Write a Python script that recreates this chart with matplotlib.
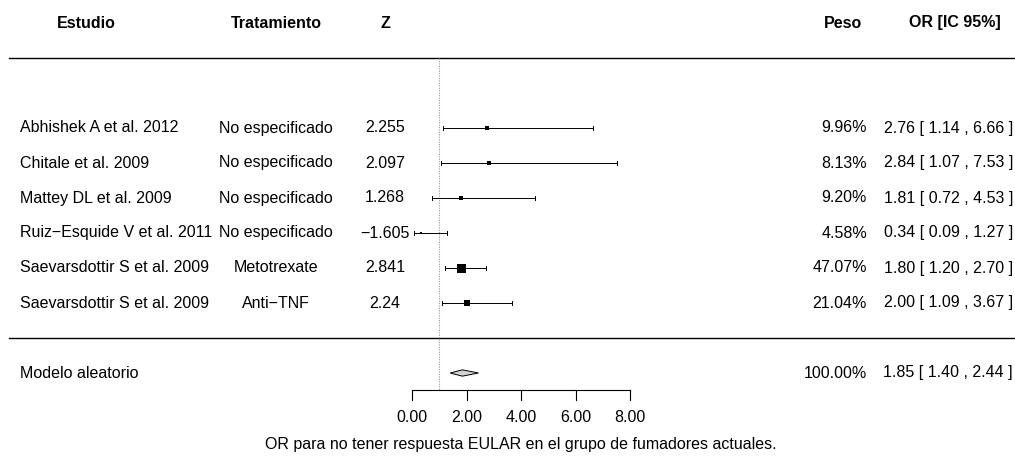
import matplotlib
matplotlib.use('Agg')
import matplotlib.pyplot as plt

plt.rcParams['font.family'] = ['Liberation Sans', 'DejaVu Sans']

# datos del forest plot
estudios = ['Abhishek A et al. 2012', 'Chitale et al. 2009', 'Mattey DL et al. 2009',
            'Ruiz\u2212Esquide V et al. 2011', 'Saevarsdottir S et al. 2009',
            'Saevarsdottir S et al. 2009']
tratamientos = ['No especificado', 'No especificado', 'No especificado',
                'No especificado', 'Metotrexate', 'Anti\u2212TNF']
z_vals = ['2.255', '2.097', '1.268', '\u22121.605', '2.841', '2.24']
pesos = [9.96, 8.13, 9.20, 4.58, 47.07, 21.04]
odds = [2.76, 2.84, 1.81, 0.34, 1.80, 2.00]
ci_lo = [1.14, 1.07, 0.72, 0.09, 1.20, 1.09]
ci_hi = [6.66, 7.53, 4.53, 1.27, 2.70, 3.67]

resumen_label = 'Modelo aleatorio'
resumen_or = 1.85
resumen_lo = 1.40
resumen_hi = 2.44
resumen_peso = 100.00

ticks = [0, 2, 4, 6, 8]
xlabel = 'OR para no tener respuesta EULAR en el grupo de fumadores actuales.'

FS = 11.5

fig = plt.figure(figsize=(10.15, 4.58), dpi=100)
ax = fig.add_axes([0, 0, 1, 1])
ax.axis('off')
# escala: 0 en px 412, 8 en px 630
ppu = 218 / 8.0
ax.set_xlim(-412 / ppu, (1015 - 412) / ppu)
ax.set_ylim(1 + (303 - 458) / 35.0, 1 + 303 / 35.0)

def px(p):
    return (p - 412) / ppu

col_est = px(20)
col_trat = px(276)
col_z = px(385)
col_peso = px(867)
col_or = px(1013)

n = len(estudios)
filas = list(range(n, 0, -1))

# cabeceras
ax.text(px(86), 9, 'Estudio', ha='center', va='center', fontsize=FS, fontweight='bold')
ax.text(col_trat, 9, 'Tratamiento', ha='center', va='center', fontsize=FS, fontweight='bold')
ax.text(col_z, 9, 'Z', ha='center', va='center', fontsize=FS, fontweight='bold')
ax.text(px(843), 9, 'Peso', ha='center', va='center', fontsize=FS, fontweight='bold')
ax.text(px(955), 9, 'OR [IC 95%]', ha='center', va='center', fontsize=FS, fontweight='bold')

# lineas horizontales
xl = ax.get_xlim()
ax.plot([px(9), xl[1]], [8, 8], color='black', lw=1)
ax.plot([px(9), xl[1]], [0, 0], color='black', lw=1)

# linea de referencia
ax.plot([1, 1], [8, -1.49], color='#999999', lw=0.8, ls=(0, (1, 1.2)))

wmin, wmax = min(pesos), max(pesos)
for i in range(n):
    y = filas[i]
    ax.text(col_est, y, estudios[i], ha='left', va='center', fontsize=FS)
    ax.text(col_trat, y, tratamientos[i], ha='center', va='center', fontsize=FS)
    ax.text(col_z, y, z_vals[i], ha='center', va='center', fontsize=FS)
    ax.text(col_peso, y, f'{pesos[i]:.2f}%', ha='right', va='center', fontsize=FS)
    ax.text(col_or, y, f'{odds[i]:.2f} [ {ci_lo[i]:.2f} , {ci_hi[i]:.2f} ]',
            ha='right', va='center', fontsize=FS)
    ax.plot([ci_lo[i], ci_hi[i]], [y, y], color='black', lw=0.7)
    for c in (ci_lo[i], ci_hi[i]):
        ax.plot([c, c], [y - 0.06, y + 0.06], color='black', lw=0.7)
    size_px = 2.5 + (pesos[i] - wmin) / (wmax - wmin) * 6.5
    ax.plot(odds[i], y, marker='s', color='black', ms=size_px * 0.72, mew=0, ls='none')

# resumen
ys = -1
ax.text(col_est, ys, resumen_label, ha='left', va='center', fontsize=FS)
ax.text(col_peso, ys, f'{resumen_peso:.2f}%', ha='right', va='center', fontsize=FS)
ax.text(col_or, ys, f'{resumen_or:.2f} [ {resumen_lo:.2f} , {resumen_hi:.2f} ]',
        ha='right', va='center', fontsize=FS)
ax.fill([resumen_lo, resumen_or, resumen_hi, resumen_or],
        [ys, ys + 0.09, ys, ys - 0.09], facecolor='#d3d3d3', edgecolor='black', lw=0.7)

# eje
ya = -1.486
ax.plot([ticks[0], ticks[-1]], [ya, ya], color='black', lw=0.8)
for t in ticks:
    ax.plot([t, t], [ya, ya - 0.29], color='black', lw=0.8)
    ax.text(t, -2.26, f'{t:.2f}', ha='center', va='center', fontsize=FS)
ax.text(4, -3.03, xlabel, ha='center', va='center', fontsize=FS)

fig.savefig('out.png', dpi=100)
